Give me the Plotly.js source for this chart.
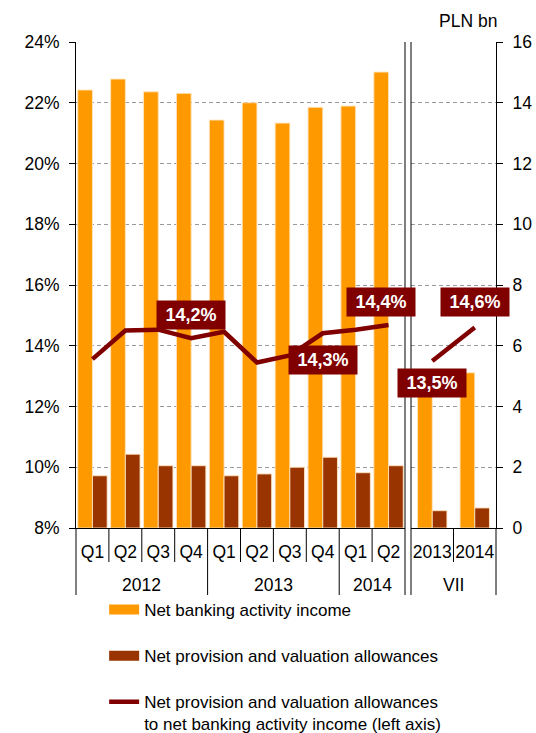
<!DOCTYPE html>
<html>
<head>
<meta charset="utf-8">
<script src="https://cdn.plot.ly/plotly-3.0.1.min.js"></script>
<style>
  html, body { margin: 0; padding: 0; background: #fff; overflow: hidden; }
  #chart { width: 536px; height: 780px; }
</style>
</head>
<body>
<div id="chart"></div>
<script>
// Quarterly figures, 2012 Q1 – 2014 Q2 (PLN bn, ratio in %)
const years = ['2012', '2012', '2012', '2012', '2013', '2013', '2013', '2013', '2014', '2014'];
const quarters = ['Q1', 'Q2', 'Q3', 'Q4', 'Q1', 'Q2', 'Q3', 'Q4', 'Q1', 'Q2'];
const incomeQ = [14.42, 14.78, 14.36, 14.31, 13.43, 14.0, 13.33, 13.85, 13.89, 15.01];
const provisionQ = [1.72, 2.43, 2.05, 2.05, 1.72, 1.78, 2.0, 2.33, 1.82, 2.05];
const ratioQ = [13.56, 14.5, 14.53, 14.25, 14.46, 13.45, 13.68, 14.41, 14.53, 14.68];

// Ratio for the full years 2012, 2013 and for 2014 H1 (%)
const ratioAnnual = [14.2, 14.3, 14.4];

// July 2013 and July 2014
const monthGroup = ['VII', 'VII'];
const monthYears = ['2013', '2014'];
const incomeM = [4.4, 5.11];
const provisionM = [0.57, 0.66];
const ratioM = [13.5, 14.6];

const seriesNames = [
  'Net banking activity income',
  'Net provision and valuation allowances',
  'Net provision and valuation allowances<br>to net banking activity income (left axis)'
];

const ORANGE = '#FF9900';
const BROWN = '#993300';
const DARKRED = '#800000';
const FONT = 'Liberation Sans, Arial, sans-serif';
const TICK = { family: FONT, size: 17.5, color: '#000' };

const fmtPct = v => v.toFixed(1).replace('.', ',') + '%';

// unique category keys for the quarterly axis (labels show the quarter only)
const qKeys = years.map((y, i) => y + ' ' + quarters[i]);

const barEdge = { color: 'rgba(255,228,190,0.9)', width: 1 };
const wQ = 0.447;   // bar width in category units, quarterly panel
const wM = 0.346;   // bar width in category units, July panel

const traces = [
  // quarterly panel
  { type: 'bar', x: qKeys, y: incomeQ, xaxis: 'x', yaxis: 'y',
    width: wQ, offset: -wQ, marker: { color: ORANGE, line: barEdge },
    showlegend: false, legendgroup: 'inc' },
  { type: 'bar', x: qKeys, y: provisionQ, xaxis: 'x', yaxis: 'y',
    width: wQ, offset: 0, marker: { color: BROWN, line: barEdge },
    showlegend: false, legendgroup: 'prov' },
  // July panel
  { type: 'bar', x: monthYears, y: incomeM, xaxis: 'x2', yaxis: 'y',
    width: wM, offset: -wM, marker: { color: ORANGE, line: barEdge },
    showlegend: false, legendgroup: 'inc' },
  { type: 'bar', x: monthYears, y: provisionM, xaxis: 'x2', yaxis: 'y',
    width: wM, offset: 0, marker: { color: BROWN, line: barEdge },
    showlegend: false, legendgroup: 'prov' },
  // legend entries for the bar series
  { type: 'scatter', mode: 'lines', x: [null], y: [null], xaxis: 'x', yaxis: 'y',
    name: seriesNames[0], legendgroup: 'inc', line: { color: ORANGE, width: 10 } },
  { type: 'scatter', mode: 'lines', x: [null], y: [null], xaxis: 'x', yaxis: 'y',
    name: seriesNames[1], legendgroup: 'prov', line: { color: BROWN, width: 10 } },
  // ratio lines (left axis)
  { type: 'scatter', mode: 'lines', x: qKeys, y: ratioQ, xaxis: 'x', yaxis: 'y2',
    name: seriesNames[2], legendgroup: 'ratio', line: { color: DARKRED, width: 4.5 } },
  { type: 'scatter', mode: 'lines', x: monthYears, y: ratioM, xaxis: 'x2', yaxis: 'y2',
    showlegend: false, legendgroup: 'ratio', line: { color: DARKRED, width: 4.5 } }
];

// label placement: [xref, x fraction of panel, y on left axis]
const labelSpots = [
  ['x domain', 0.35, 15.01],
  ['x domain', 0.75, 13.53],
  ['x domain', 0.927, 15.44]
];
const monthSpots = [
  ['x2 domain', 0.25, 12.76],
  ['x2 domain', 0.75, 15.44]
];

const boxLabel = (spot, value) => ({
  xref: spot[0], x: spot[1], yref: 'y2', y: spot[2],
  text: fmtPct(value), showarrow: false,
  bgcolor: DARKRED, width: 66, height: 26,
  font: { family: FONT, size: 18, color: '#fff', weight: 'bold' },
  xanchor: 'center', yanchor: 'middle'
});

const annotations = [];
ratioAnnual.forEach((v, i) => annotations.push(boxLabel(labelSpots[i], v)));
ratioM.forEach((v, i) => annotations.push(boxLabel(monthSpots[i], v)));
annotations.push({
  xref: 'paper', x: 1, xanchor: 'right', xshift: 3,
  yref: 'y domain', y: 1, yanchor: 'middle', yshift: 21,
  text: 'PLN bn', showarrow: false, font: TICK
});

// second-level labels: one per group of consecutive categories
function groupLabels(groups, xref) {
  const n = groups.length;
  let start = 0;
  for (let i = 1; i <= n; i++) {
    if (i === n || groups[i] !== groups[start]) {
      annotations.push({
        xref: xref, x: (start + i) / 2 / n, yref: 'y domain', y: 0, yshift: -57,
        xanchor: 'center', yanchor: 'middle', showarrow: false,
        text: groups[start], font: TICK
      });
      start = i;
    }
  }
}
groupLabels(years, 'x domain');
groupLabels(monthGroup, 'x2 domain');

// separators below the axis: short between categories, long between groups
const shapes = [];
const sepLine = { color: '#000', width: 1 };
const shortDepth = -34 / 486;
const longDepth = -67 / 486;
function separators(groups, xref) {
  const n = groups.length;
  for (let i = 1; i < n; i++) {
    const d = groups[i] !== groups[i - 1] ? longDepth : shortDepth;
    shapes.push({ type: 'line', xref: xref, x0: i / n, x1: i / n,
      yref: 'y domain', y0: 0, y1: d, line: sepLine });
  }
}
separators(years, 'x domain');
separators(monthGroup, 'x2 domain');
// panel edges
shapes.push({ type: 'line', xref: 'x domain', x0: 0, x1: 0, yref: 'y domain', y0: 0, y1: longDepth, line: sepLine });
shapes.push({ type: 'line', xref: 'x domain', x0: 1, x1: 1, yref: 'y domain', y0: 1, y1: longDepth, line: sepLine });
shapes.push({ type: 'line', xref: 'x2 domain', x0: 0, x1: 0, yref: 'y domain', y0: 1, y1: longDepth, line: sepLine });
shapes.push({ type: 'line', xref: 'x2 domain', x0: 1, x1: 1, yref: 'y domain', y0: 0, y1: longDepth, line: sepLine });

const xCommon = {
  type: 'category', showline: true, linecolor: '#000', linewidth: 1,
  ticks: '', showgrid: false, zeroline: false, tickangle: 0,
  tickfont: TICK, ticklabelstandoff: 8, fixedrange: true
};

// plot area: 76..496 px wide, 42..528 px tall; the figure runs past the
// visible window so the legend's lower padding has room
const FIG_H = 780;
const MB = 52;
const PAPER_H = FIG_H - MB - 42;
const plotBottom = (FIG_H - MB - 528) / PAPER_H;

const layout = {
  width: 536, height: FIG_H,
  margin: { l: 76, r: 40, t: 42, b: MB },
  paper_bgcolor: '#fff', plot_bgcolor: 'rgba(0,0,0,0)',
  font: { family: FONT, size: 17.5, color: '#000' },
  barmode: 'overlay',
  xaxis: Object.assign({}, xCommon, {
    domain: [0, 329 / 420], anchor: 'y',
    tickmode: 'array', tickvals: qKeys, ticktext: quarters
  }),
  xaxis2: Object.assign({}, xCommon, { domain: [335 / 420, 1], anchor: 'y' }),
  // PLN bn, right side
  yaxis: {
    domain: [plotBottom, 1],
    side: 'right', anchor: 'x2', range: [0, 16], dtick: 2,
    showline: true, linecolor: '#000', linewidth: 1,
    ticks: 'outside', ticklen: 6, tickcolor: '#000', ticklabelstandoff: 6,
    showgrid: true, gridcolor: '#9a9a9a', griddash: '4px,3px', gridwidth: 1,
    zeroline: false, fixedrange: true, tickfont: TICK
  },
  // ratio in %, left side
  yaxis2: {
    domain: [plotBottom, 1],
    side: 'left', anchor: 'x', overlaying: 'y', range: [8, 24], dtick: 2,
    ticksuffix: '%',
    showline: true, linecolor: '#000', linewidth: 1,
    ticks: 'outside', ticklen: 6, tickcolor: '#000', ticklabelstandoff: 6,
    showgrid: false, zeroline: false, fixedrange: true, tickfont: TICK
  },
  legend: {
    x: 0.067, xanchor: 'left', y: (FIG_H - MB - 592) / PAPER_H, yanchor: 'top',
    orientation: 'v', traceorder: 'grouped', tracegroupgap: 21, valign: 'top',
    bgcolor: 'rgba(0,0,0,0)', font: { family: FONT, size: 17, color: '#000' }
  },
  annotations: annotations,
  shapes: shapes,
  showlegend: true
};

Plotly.newPlot('chart', traces, layout, { displayModeBar: false, staticPlot: true });
</script>
</body>
</html>
